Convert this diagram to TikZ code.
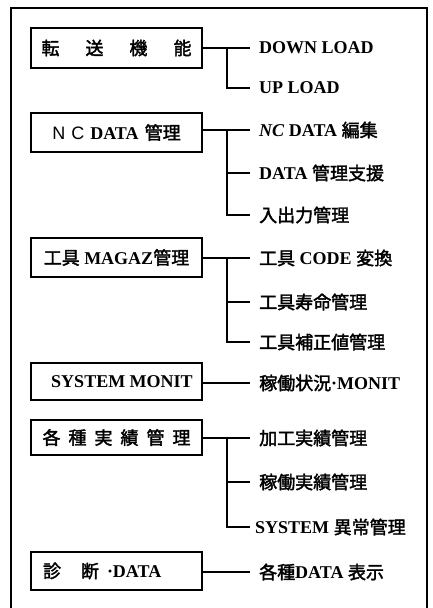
\documentclass[tikz,border=0pt]{standalone}
\usepackage{fontspec}
\setmainfont{Liberation Serif}
\newfontfamily\cjk{Noto Sans CJK JP}[FakeBold=2]
\newfontfamily\sansf{Liberation Sans}
\newcommand{\J}[1]{{\cjk\mdseries #1}}
\begin{document}
\begin{tikzpicture}[x=1pt,y=-1pt,
  frame/.style={line width=2pt},
  boxnode/.style={draw, line width=1.5pt, minimum width=171pt, inner sep=0pt,
    font=\fontsize{18}{20}\selectfont\bfseries},
  item/.style={anchor=west, inner xsep=9pt, inner ysep=0pt,
    font=\fontsize{18}{20}\selectfont\bfseries},
  link/.style={line width=1.8pt}]
\useasboundingbox (0,0) rectangle (432,608);
% outer frame (open at the bottom edge of the picture)
\draw[frame] (11,612) -- (11,8) -- (427,8) -- (427,612);
% trunk x position
\coordinate (tk) at (227,0);
% boxes
\node[boxnode, minimum height=40pt] (b1) at (116.5,48)
  {\J{転}\hspace{26pt}\J{送}\hspace{26pt}\J{機}\hspace{26pt}\J{能}};
\node[boxnode, minimum height=39pt] (b2) at (116.5,132.5)
  {{\sansf\mdseries N\hspace{6pt}C}\hspace{6pt}DATA\hspace{6pt}\J{管理}};
\node[boxnode, minimum height=39pt] (b3) at (116.5,257.5)
  {\J{工具} MAGAZ\J{管理}};
\node[boxnode, minimum height=37pt] (b4) at (116.5,381.5)
  {\hspace{11pt}SYSTEM MONIT};
\node[boxnode, minimum height=35pt] (b5) at (116.5,437.5)
  {\J{各}\hspace{8pt}\J{種}\hspace{8pt}\J{実}\hspace{8pt}\J{績}\hspace{8pt}\J{管}\hspace{8pt}\J{理}};
\node[boxnode, minimum height=38pt, text width=147pt, align=left] (b6) at (116.5,571)
  {\J{診}\hspace{20pt}\J{断}\hspace{8pt}·DATA};
% items
\node[item] (i11) at (250,48) {DOWN LOAD};
\node[item] (i12) at (250,88) {UP LOAD};
\node[item] (i21) at (250,130) {\textit{NC} DATA \J{編集}};
\node[item] (i22) at (250,173) {DATA \J{管理支援}};
\node[item] (i23) at (250,215) {\J{入出力管理}};
\node[item] (i31) at (250,258) {\J{工具} CODE \J{変換}};
\node[item] (i32) at (250,302) {\J{工具寿命管理}};
\node[item] (i33) at (250,342) {\J{工具補正値管理}};
\node[item] (i41) at (250,383) {\J{稼働状況}·MONIT};
\node[item] (i51) at (250,438) {\J{加工実績管理}};
\node[item] (i52) at (250,482) {\J{稼働実績管理}};
\node[item, inner xsep=5pt] (i53) at (250,527) {SYSTEM \J{異常管理}};
\node[item] (i61) at (250,572) {\J{各種}DATA \J{表示}};
% connectors
\draw[link] (b1.east |- i11.west) -- (i11.west);
\draw[link] (tk |- i11.west) |- (i12.west);
\draw[link] (b2.east |- i21.west) -- (i21.west);
\draw[link] (tk |- i21.west) |- (i23.west);
\draw[link] (tk |- i22.west) -- (i22.west);
\draw[link] (b3.east |- i31.west) -- (i31.west);
\draw[link] (tk |- i31.west) |- (i33.west);
\draw[link] (tk |- i32.west) -- (i32.west);
\draw[link] (b4.east |- i41.west) -- (i41.west);
\draw[link] (b5.east |- i51.west) -- (i51.west);
\draw[link] (tk |- i51.west) |- (i53.west);
\draw[link] (tk |- i52.west) -- (i52.west);
\draw[link] (b6.east |- i61.west) -- (i61.west);
\end{tikzpicture}
\end{document}
